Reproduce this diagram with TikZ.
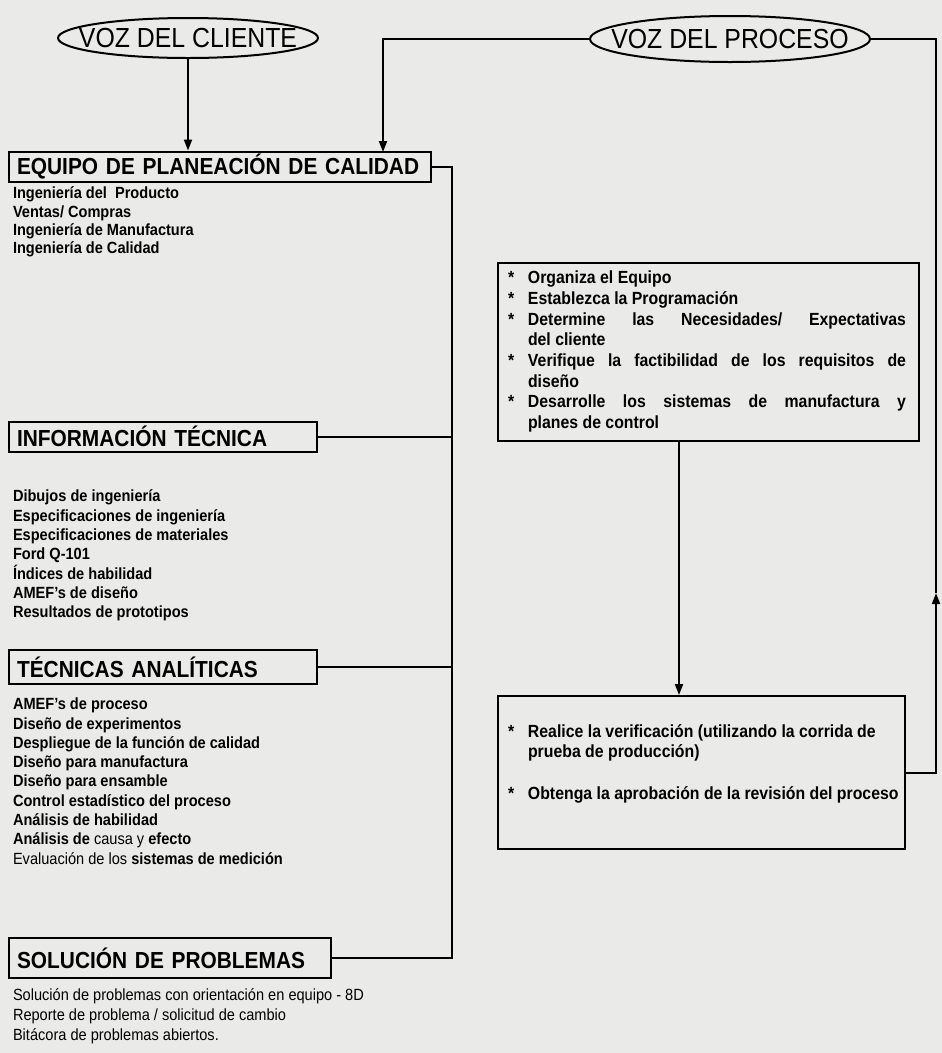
\documentclass[tikz,border=0pt]{standalone}
\usepackage{fontspec}
\setmainfont{Liberation Sans}[FakeStretch=0.9]
\usetikzlibrary{shapes.geometric,arrows.meta}

\definecolor{papel}{RGB}{234,234,232}
\newcommand{\paso}[1]{\par\noindent\hangindent=20pt\hangafter=1\makebox[20pt][l]{*}#1}

\tikzset{
  voz/.style={draw, ellipse, inner sep=-80pt, font=\fontsize{27.6}{30}\selectfont},
  titulo/.style={draw, anchor=west, inner xsep=8pt, inner ysep=0pt, minimum height=30pt, align=left, font=\fontsize{23.2}{26}\selectfont\bfseries},
  lista/.style={anchor=north west, inner sep=0pt, align=left, font=\fontsize{16.2}{19.3}\selectfont\bfseries},
  caja/.style={draw, anchor=north west, inner xsep=0pt, align=justify}
}

\begin{document}
\begin{tikzpicture}[x=1pt, y=-1pt, line width=2pt, >={Triangle[length=11pt,width=8pt]}]
\fill[papel] (0,0) rectangle (942,1053);
\useasboundingbox (0,0) rectangle (942,1053);

\node[voz, minimum width=260pt, minimum height=40pt] (cliente) at (188,38) {VOZ DEL CLIENTE};
\node[voz, minimum width=280pt, minimum height=46pt] (proceso) at (730,39) {VOZ DEL PROCESO};

\node[titulo, text width=406pt] (equipo) at (8,166.5) {EQUIPO DE PLANEACIÓN DE CALIDAD};
\node[lista, font=\fontsize{16.2}{18.3}\selectfont\bfseries] (equipolista) at (12,186) {Ingeniería del~ Producto\\Ventas/ Compras\\Ingeniería de Manufactura\\Ingeniería de Calidad};

\node[titulo, text width=292pt] (info) at (8,436.5) {INFORMACIÓN TÉCNICA};
\node[lista] (infolista) at (12,489) {Dibujos de ingeniería\\Especificaciones de ingeniería\\Especificaciones de materiales\\Ford Q-101\\Índices de habilidad\\AMEF's de diseño\\Resultados de prototipos};

\node[titulo, text width=292pt, minimum height=34pt] (tecnicas) at (8,667) {TÉCNICAS ANALÍTICAS};
\node[lista] (tecnicaslista) at (12,697) {AMEF's de proceso\\Diseño de experimentos\\Despliegue de la función de calidad\\Diseño para manufactura\\Diseño para ensamble\\Control estadístico del proceso\\Análisis de habilidad\\Análisis de {\mdseries causa y} efecto\\{\mdseries Evaluación de los} sistemas de medición};

\node[titulo, text width=306pt, minimum height=40pt] (solucion) at (8,958) {SOLUCIÓN DE PROBLEMAS};
\node[lista, font=\fontsize{16.2}{19.6}\selectfont] (solucionlista) at (12,988) {Solución de problemas con orientación en equipo - 8D\\Reporte de problema / solicitud de cambio\\Bitácora de problemas abiertos.};

\node[caja, text width=421pt, inner ysep=0pt, font=\fontsize{17.6}{20.7}\selectfont\bfseries] (pasos) at (497,262) {\leftskip=10pt \rightskip=13pt
\paso{Organiza el Equipo}
\paso{Establezca la Programación}
\paso{Determine las Necesidades/ Expectativas\linebreak del cliente}
\paso{Verifique la factibilidad de los requisitos de\linebreak diseño}
\paso{Desarrolle los sistemas de manufactura y\linebreak planes de control}\par
\vspace{9pt}\hrule height 0pt width 0pt};

\node[caja, text width=407pt, minimum height=153pt, font=\fontsize{17.6}{20}\selectfont\bfseries] (verif) at (497,695) {\leftskip=10pt
\paso{Realice la verificación (utilizando la corrida de\newline prueba de producción)}
\par\vspace{22pt}
\paso{Obtenga la aprobación de la revisión del proceso}
\par\vspace{24pt}\hrule height 0pt width 0pt};

\coordinate (bus) at (452,0);
\coordinate (bajada) at (383,152);
\coordinate (baja) at (679,0);
\coordinate (retorno) at (936,593);

\draw[->] (cliente) -- (cliente |- equipo.north);
\draw[->] (proceso) -| (bajada);
\draw (equipo) -| (bus |- solucion) -- (solucion);
\draw (info) -- (info -| bus);
\draw (tecnicas) -- (tecnicas -| bus);
\draw[->] (pasos.south -| baja) -- (verif.north -| baja);
\draw[->] (verif) -| (retorno);
\draw (retorno) |- (proceso);
\end{tikzpicture}
\end{document}
